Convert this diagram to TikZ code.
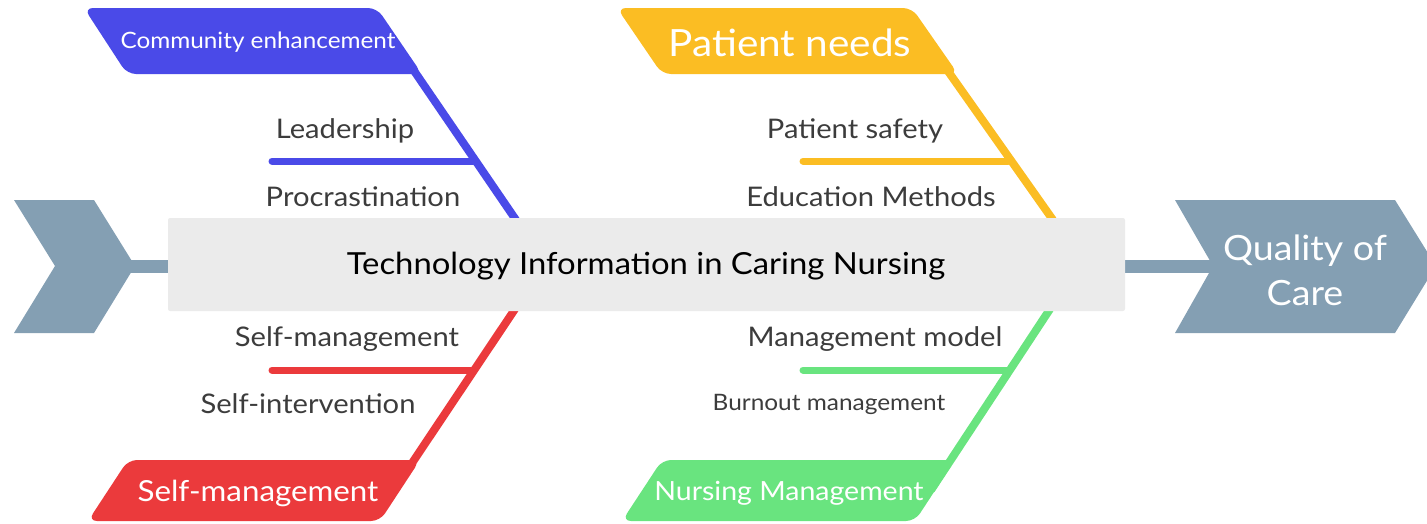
\documentclass[tikz,border=0pt]{standalone}
\usepackage{fontspec}
\setmainfont{Lato}[FakeStretch=1.08]
\definecolor{cblue}{HTML}{4A4AE8}
\definecolor{cyellow}{HTML}{FBBD23}
\definecolor{cred}{HTML}{EB3A3C}
\definecolor{cgreen}{HTML}{69E47F}
\definecolor{cgray}{HTML}{849FB3}
\definecolor{cbox}{HTML}{EBEBEB}
\definecolor{ctext}{HTML}{3C3C3C}
\tikzset{
  sublabel/.style={text=ctext, inner sep=0pt, font=\fontsize{27}{31}\selectfont},
  catlabel/.style={text=white, inner sep=0pt},
  bone/.style={line width=8pt},
  rib/.style={line width=7pt, line cap=round},
  catbox/.style={rounded corners=9pt},
}
\begin{document}
\begin{tikzpicture}[x=1pt,y=-1pt]
\useasboundingbox (0,0) rectangle (1427,523);
\clip (0,0) rectangle (1427,523);
% spine and end shapes
\coordinate (spL) at (120,266);
\coordinate (spR) at (1220,266);
\draw[cgray, line width=13pt] (spL) -- (spR);
\fill[cgray] (14,200) -- (94,200) -- (135,266) -- (94,333) -- (14,333) -- (55,266) -- cycle;
\fill[cgray] (1175,200) -- (1395,200) -- (1436,266) -- (1395,333) -- (1175,333) -- (1213,266) -- cycle;
\node[catlabel, font=\fontsize{34.8}{45}\selectfont, align=center] (effect) at (1305,270) {Quality of\\Care};
% ribs
\coordinate (rB1) at (272,161); \coordinate (rB2) at (473,161);
\coordinate (rY1) at (803,161); \coordinate (rY2) at (1008,161);
\coordinate (rR1) at (272,370); \coordinate (rR2) at (471,370);
\coordinate (rG1) at (803,370); \coordinate (rG2) at (1007,370);
\draw[rib, cblue] (rB1) -- (rB2);
\draw[rib, cyellow] (rY1) -- (rY2);
\draw[rib, cred] (rR1) -- (rR2);
\draw[rib, cgreen] (rG1) -- (rG2);
% bones (run inside the category boxes, flush with their slanted edge)
\coordinate (bB1) at (393,40); \coordinate (bB2) at (516,220);
\coordinate (bY1) at (926,40); \coordinate (bY2) at (1053,220);
\coordinate (bR1) at (515,309); \coordinate (bR2) at (394,490);
\coordinate (bG1) at (1050,309); \coordinate (bG2) at (931,490);
\draw[bone, cblue] (bB1) -- (bB2);
\draw[bone, cyellow] (bY1) -- (bY2);
\draw[bone, cred] (bR1) -- (bR2);
\draw[bone, cgreen] (bG1) -- (bG2);
% main box
\fill[cbox, rounded corners=2pt] (168,218) rectangle (1125,311);
\node[text=black, inner sep=0pt, font=\fontsize{30.4}{35}\selectfont] (head) at (646,266) {Technology Information in Caring Nursing};
% category boxes
\fill[cblue, catbox] (84,8) -- (377,8) -- (422,74) -- (127,74) -- cycle;
\node[catlabel, font=\fontsize{22.5}{27}\selectfont] (cB) at (258,42) {Community enhancement};
\fill[cyellow, catbox] (617,8) -- (912,8) -- (958,74) -- (662,74) -- cycle;
\node[catlabel, font=\fontsize{37.5}{42}\selectfont] (cY) at (790,43) {Patient needs};
\fill[cred, catbox] (128,460) -- (420,460) -- (380,521) -- (88,521) -- cycle;
\node[catlabel, font=\fontsize{29}{33}\selectfont] (cR) at (258,493) {Self-management};
\fill[cgreen, catbox] (662,460) -- (955,460) -- (915,521) -- (622,521) -- cycle;
\node[catlabel, font=\fontsize{26.4}{31}\selectfont] (cG) at (789,493) {Nursing Management};
% sub labels
\node[sublabel] (l1) at (345,131) {Leadership};
\node[sublabel] (l2) at (363,197) {Procrastination};
\node[sublabel] (l3) at (855,131) {Patient safety};
\node[sublabel] (l4) at (871,197) {Education Methods};
\node[sublabel] (l5) at (347,339) {Self-management};
\node[sublabel] (l6) at (308,404) {Self-intervention};
\node[sublabel] (l7) at (875,339) {Management model};
\node[sublabel, font=\fontsize{22.6}{27}\selectfont] (l8) at (829,404) {Burnout management};
\end{tikzpicture}
\end{document}
